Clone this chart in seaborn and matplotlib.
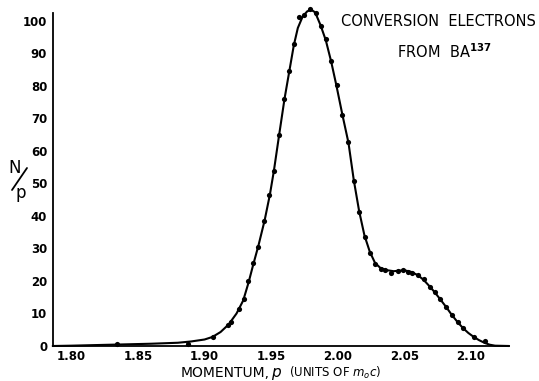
import matplotlib
matplotlib.use("Agg")
import matplotlib.pyplot as plt
from matplotlib.lines import Line2D
import seaborn as sns
import pandas as pd

# measured points (momentum, N/p)
point_p = [1.834, 1.8875, 1.906, 1.9176, 1.9198, 1.9255, 1.9293, 1.9328, 1.9363,
           1.9403, 1.9446, 1.9486, 1.952, 1.956, 1.9598, 1.9636, 1.9668, 1.9706,
           1.9743, 1.9794, 1.9833, 1.9871, 1.9911, 1.9949, 1.9991, 2.0034, 2.0077,
           2.0119, 2.0162, 2.0201, 2.0242, 2.0282, 2.0327, 2.0357, 2.0402, 2.0449,
           2.0489, 2.0524, 2.0557, 2.0602, 2.0644, 2.0689, 2.073, 2.077, 2.0815,
           2.0854, 2.09, 2.094, 2.102, 2.1102]
point_n = [0.5, 0.7, 2.8, 6.5, 7.4, 11.4, 14.4, 19.9, 25.4,
           30.5, 38.5, 46.4, 53.8, 65.0, 76.0, 84.5, 92.8, 101.3,
           101.8, 103.5, 102.5, 98.4, 94.3, 87.7, 80.2, 70.9, 62.8,
           50.8, 41.1, 33.5, 28.5, 25.2, 23.7, 23.5, 22.5, 23.1,
           23.3, 22.7, 22.5, 21.8, 20.5, 18.2, 16.5, 14.4, 11.9,
           9.5, 7.4, 5.4, 2.9, 1.6]

# hand-drawn curve
curve_p = [1.786, 1.80, 1.83, 1.86, 1.88, 1.89, 1.90, 1.906, 1.912, 1.918, 1.924,
           1.929, 1.933, 1.9365, 1.9405, 1.945, 1.949, 1.952, 1.956, 1.960, 1.9636,
           1.967, 1.970, 1.9735, 1.977, 1.980, 1.983, 1.987, 1.991, 1.995, 1.999,
           2.0035, 2.008, 2.012, 2.016, 2.020, 2.024, 2.028, 2.032, 2.037, 2.042,
           2.047, 2.051, 2.055, 2.060, 2.0645, 2.069, 2.073, 2.077, 2.0815, 2.0855,
           2.090, 2.094, 2.098, 2.102, 2.106, 2.110, 2.114, 2.118, 2.1285]
curve_n = [0.0, 0.1, 0.4, 0.7, 1.0, 1.4, 2.0, 2.8, 4.3, 6.6, 10.0,
           14.0, 19.5, 25.0, 31.0, 38.5, 46.5, 53.8, 65.0, 76.0, 84.5,
           92.5, 97.8, 101.2, 102.9, 103.4, 102.6, 98.7, 94.0, 87.5, 80.0,
           71.0, 62.5, 51.0, 41.5, 34.0, 29.0, 25.5, 24.0, 23.3, 23.0,
           23.2, 23.2, 22.8, 21.8, 20.3, 18.3, 16.4, 14.3, 11.9, 9.6,
           7.3, 5.5, 4.0, 2.8, 1.8, 1.0, 0.4, 0.1, 0.0]

x_ticks = [1.80, 1.85, 1.90, 1.95, 2.00, 2.05, 2.10]
x_tick_labels = ["1.80", "1.85", "1.90", "1.95", "2.00", "2.05", "2.10"]
y_ticks = [0, 10, 20, 30, 40, 50, 60, 70, 80, 90, 100]
y_tick_labels = ["0", "10", "20", "30", "40", "50", "60", "70", "80", "90", "100"]

sns.set_style("white")
plt.rcParams['font.family'] = ['DejaVu Sans']
plt.rcParams['text.color'] = 'black'
plt.rcParams['xtick.color'] = 'black'
plt.rcParams['ytick.color'] = 'black'

W, H = 539, 381
fig = plt.figure(figsize=(W / 100, H / 100), dpi=100)
ax = fig.add_axes([52.7 / W, 1 - 346 / H, (509 - 52.7) / W, (346 - 13) / H])

pts = pd.DataFrame({"p": point_p, "n": point_n})
crv = pd.DataFrame({"p": curve_p, "n": curve_n})
sns.lineplot(data=crv, x="p", y="n", ax=ax, color="black", linewidth=1.5,
             sort=False, clip_on=False)
sns.scatterplot(data=pts, x="p", y="n", ax=ax, color="black", s=14,
                edgecolor="black", linewidth=0, clip_on=False, zorder=3)

ax.set_xlim(1.786, 2.1285)
ax.set_ylim(0, 102.4)
ax.set_xticks(x_ticks)
ax.set_xticklabels(x_tick_labels, fontsize=8.5, fontweight="bold", color="black")
ax.set_yticks(y_ticks)
ax.set_yticklabels(y_tick_labels, fontsize=8.5, fontweight="bold", color="black")
ax.tick_params(axis="both", direction="in", length=4, width=1, colors="black",
               pad=4)
ax.tick_params(axis="x", pad=3)
ax.set_xlabel("")
ax.set_ylabel("")
for s in ["top", "right"]:
    ax.spines[s].set_visible(False)
for s in ["left", "bottom"]:
    ax.spines[s].set_color("black")
    ax.spines[s].set_linewidth(1.3)

fig.text(438 / W, 1 - 22 / H, "CONVERSION  ELECTRONS", ha="center", va="center",
         fontsize=10.5, color="black")
fig.text(444 / W, 1 - 52 / H, r"FROM  BA$^{\mathbf{137}}$", ha="center", va="center",
         fontsize=10.5, color="black")

fig.text(181 / W, 1 - 377 / H, "MOMENTUM,", ha="left", va="baseline",
         fontsize=10, color="black")
fig.text(271 / W, 1 - 377 / H, r"$p$", ha="left", va="baseline",
         fontsize=11, color="black")
fig.text(289 / W, 1 - 377 / H, r"(UNITS OF $m_{o}c$)", ha="left", va="baseline",
         fontsize=8.5, color="black")

fig.text(15 / W, 1 - 168 / H, "N", ha="center", va="center", fontsize=12,
         color="black")
fig.text(21 / W, 1 - 193 / H, "p", ha="center", va="center", fontsize=12,
         color="black")
fig.add_artist(Line2D([12 / W, 27 / W], [1 - 190 / H, 1 - 168 / H],
                      transform=fig.transFigure, color="black", linewidth=1.3))

fig.savefig("out.png", dpi=100, facecolor="white")
